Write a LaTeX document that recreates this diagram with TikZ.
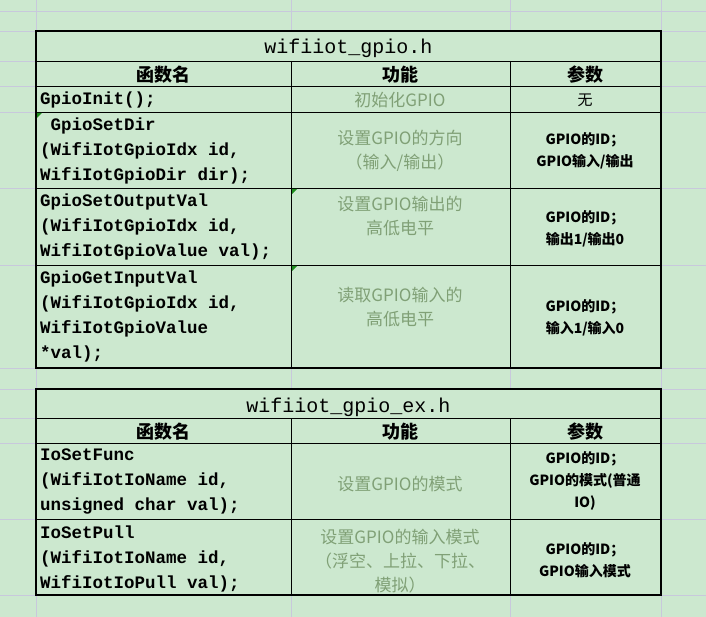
\documentclass[tikz,border=0pt]{standalone}
\usepackage{fontspec}
\setmainfont{Noto Sans CJK SC}
\newfontfamily\codef{Liberation Mono}
\newfontfamily\cjkf{Noto Sans CJK SC}
\definecolor{bgc}{RGB}{204,232,207}
\definecolor{gridc}{RGB}{200,200,220}
\definecolor{funcc}{RGB}{128,160,118}
\definecolor{markc}{RGB}{30,140,30}
\tikzset{
 code/.style={anchor=north west,align=left,font=\codef\bfseries\fontsize{17.5}{25}\selectfont,inner sep=0pt},
 func/.style={align=center,font=\cjkf\fontsize{17}{24}\selectfont,text=funcc,inner sep=0pt},
 param/.style={align=center,font=\cjkf\bfseries\fontsize{14}{22}\selectfont,inner sep=0pt},
 head/.style={font=\cjkf\bfseries\fontsize{18}{20}\selectfont,inner sep=0pt},
 title/.style={font=\codef\fontsize{20}{22}\selectfont,inner sep=0pt},
 tb/.style={line width=1.6pt,black},
 cl/.style={line width=0.8pt,black}
}
\begin{document}
\begin{tikzpicture}[x=1pt,y=-1pt]
\fill[bgc] (0,0) rectangle (706,617);
\useasboundingbox (0,0) rectangle (706,617);
% grid
\foreach \gx in {36,291,510,661} \draw[gridc,line width=0.6pt] (\gx,0) -- (\gx,617);
\foreach \gy in {11,31,61,86,112,188,265,368,389,418,443,519,595} \draw[gridc,line width=0.6pt] (0,\gy) -- (706,\gy);
% table 1
\fill[bgc] (36,31) rectangle (661,368);
\draw[cl] (36,61) -- (661,61) (36,86) -- (661,86) (36,112) -- (661,112) (36,188) -- (661,188) (36,265) -- (661,265);
\draw[cl] (291,61) -- (291,368) (510,61) -- (510,368);
\draw[tb] (36,31) rectangle (661,368);
% table 2
\fill[bgc] (36,389) rectangle (661,595);
\draw[cl] (36,418) -- (661,418) (36,443) -- (661,443) (36,519) -- (661,519);
\draw[cl] (291,418) -- (291,595) (510,418) -- (510,595);
\draw[tb] (36,389) rectangle (661,595);
% markers
\fill[markc] (37,113) -- (42,113) -- (37,118) -- cycle;
\fill[markc] (292,189) -- (297,189) -- (292,194) -- cycle;
\fill[markc] (292,266) -- (297,266) -- (292,271) -- cycle;
% text table 1
\node[title] (t1) at (348.5,48) {wifiiot\_gpio.h};
\node[head] (h1a) at (163,75) {函数名};
\node[head] (h1b) at (400,75) {功能};
\node[head] (h1c) at (585,75) {参数};
\node[code] (c1) at (40,92) {GpioInit();};
\node[func] (f1) at (400,100) {初始化GPIO};
\node[param,font=\cjkf\fontsize{15}{20}\selectfont] (p1) at (585,100) {无};
\node[code] (c2) at (40,118) {\ GpioSetDir\\(WifiIotGpioIdx id,\\WifiIotGpioDir dir);};
\node[func] (f2) at (400,151) {设置GPIO的方向\\（输入/输出）};
\node[param] (p2) at (585,151) {GPIO的ID；\\GPIO输入/输出};
\node[code] (c3) at (40,194) {GpioSetOutputVal\\(WifiIotGpioIdx id,\\WifiIotGpioValue val);};
\node[func] (f3) at (400,216) {设置GPIO输出的\\高低电平};
\node[param] (p3) at (585,229) {GPIO的ID；\\输出1/输出0};
\node[code] (c4) at (40,271) {GpioGetInputVal\\(WifiIotGpioIdx id,\\WifiIotGpioValue\\*val);};
\node[func] (f4) at (400,307) {读取GPIO输入的\\高低电平};
\node[param] (p4) at (585,318) {GPIO的ID；\\输入1/输入0};
% text table 2
\node[title] (t2) at (348.5,407) {wifiiot\_gpio\_ex.h};
\node[head] (h2a) at (163,432) {函数名};
\node[head] (h2b) at (400,432) {功能};
\node[head] (h2c) at (585,432) {参数};
\node[code] (c5) at (40,449) {IoSetFunc\\(WifiIotIoName id,\\unsigned char val);};
\node[func] (f5) at (400,484) {设置GPIO的模式};
\node[param] (p5) at (585,481) {GPIO的ID；\\GPIO的模式(普通\\IO)};
\node[code] (c6) at (40,526) {IoSetPull\\(WifiIotIoName id,\\WifiIotIoPull val);};
\node[func] (f6) at (400,561) {设置GPIO的输入模式\\（浮空、上拉、下拉、\\模拟）};
\node[param] (p6) at (585,560) {GPIO的ID；\\GPIO输入模式};
\end{tikzpicture}
\end{document}
